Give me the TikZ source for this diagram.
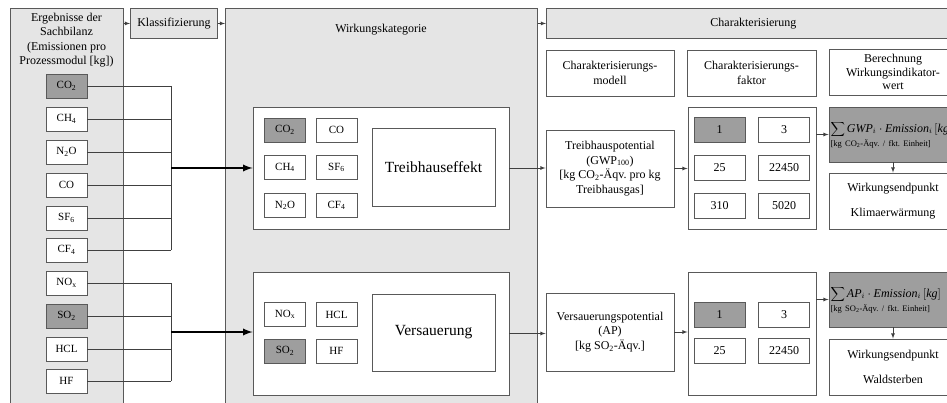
\documentclass[tikz,border=0pt]{standalone}
\usepackage{fontspec}
\setmainfont{Liberation Serif}
\frenchspacing
\begin{document}
\begin{tikzpicture}[x=1pt,y=-1pt,
    panel/.style={draw=black!65, line width=0.9pt, fill=black!10, anchor=north west, inner sep=0pt},
    box/.style={draw=black!65, line width=0.9pt, fill=white, inner sep=0pt, align=center},
    dbox/.style={box, fill=black!38},
    chem/.style={minimum width=41, minimum height=24, font=\fontsize{11}{13}\selectfont},
    num/.style={minimum width=51, minimum height=25, font=\fontsize{12}{14}\selectfont},
    txt/.style={font=\fontsize{12}{14.5}\selectfont, align=center},
    con/.style={draw=black!75, line width=0.8pt},
    bus/.style={draw=black, line width=2.2pt}]
    \clip (0,0) rectangle (947,403);
    % spalten
    \node[panel, minimum width=113, minimum height=402] (sach) at (10,8) {};
    \node[panel, minimum width=87, minimum height=30, txt] (klass) at (130,8) {Klassifizierung};
    \node[panel, minimum width=312, minimum height=402] (wirk) at (225,8) {};
    \node[panel, minimum width=414, minimum height=30, txt] (charhd) at (546,8) {Charakterisierung};
    \node[txt] (sachlbl) at (66.5,40) {Ergebnisse der\\Sachbilanz\\(Emissionen pro\\Prozessmodul [kg])};
    \node[txt] (wirklbl) at (381,30) {Wirkungskategorie};
    \draw[-latex, con] (sach.east |- klass) -- (klass.west);
    \draw[-latex, con] (klass.east) -- (klass.east -| wirk.west);
    \draw[-latex, con] (wirk.east |- charhd) -- (charhd.west);
    % sachbilanz
    \node[dbox, chem] (co2) at (66.5,86) {CO\textsubscript{2}};
    \node[box, chem] (ch4) at (66.5,119) {CH\textsubscript{4}};
    \node[box, chem] (n2o) at (66.5,152) {N\textsubscript{2}O};
    \node[box, chem] (co) at (66.5,185) {CO};
    \node[box, chem] (sf6) at (66.5,218) {SF\textsubscript{6}};
    \node[box, chem] (cf4) at (66.5,250) {CF\textsubscript{4}};
    \node[box, chem] (nox) at (66.5,283) {NO\textsubscript{x}};
    \node[dbox, chem] (so2) at (66.5,316) {SO\textsubscript{2}};
    \node[box, chem] (hcl) at (66.5,349) {HCL};
    \node[box, chem] (hf) at (66.5,381) {HF};
    \coordinate (bus1) at (171,168);
    \coordinate (bus2) at (171,332);
    \draw[con] (co2.east) -- (co2.east -| bus1) (ch4.east) -- (ch4.east -| bus1)
        (n2o.east) -- (n2o.east -| bus1) (co.east) -- (co.east -| bus1)
        (sf6.east) -- (sf6.east -| bus1) (cf4.east) -- (cf4.east -| bus1);
    \draw[con] (co2.east -| bus1) -- (cf4.east -| bus1);
    \draw[con] (nox.east) -- (nox.east -| bus2) (so2.east) -- (so2.east -| bus2)
        (hcl.east) -- (hcl.east -| bus2) (hf.east) -- (hf.east -| bus2);
    \draw[con] (nox.east -| bus2) -- (hf.east -| bus2);
    % wirkungskategorie
    \node[box, minimum width=256, minimum height=122] (gwk) at (381,168) {};
    \node[dbox, chem] (gco2) at (285,130) {CO\textsubscript{2}};
    \node[box, chem] (gco) at (336.5,130) {CO};
    \node[box, chem] (gch4) at (285,167.5) {CH\textsubscript{4}};
    \node[box, chem] (gsf6) at (336.5,167.5) {SF\textsubscript{6}};
    \node[box, chem] (gn2o) at (285,205.5) {N\textsubscript{2}O};
    \node[box, chem] (gcf4) at (336.5,205.5) {CF\textsubscript{4}};
    \node[box, minimum width=123, minimum height=78, font=\fontsize{15.5}{18}\selectfont] (treib) at (433.5,167) {Treibhauseffekt};
    \node[box, minimum width=256, minimum height=123] (apk) at (381,333.5) {};
    \node[box, chem] (anox) at (285,314.5) {NO\textsubscript{x}};
    \node[box, chem] (ahcl) at (336.5,314.5) {HCL};
    \node[dbox, chem] (aso2) at (285,351) {SO\textsubscript{2}};
    \node[box, chem] (ahf) at (336.5,351) {HF};
    \node[box, minimum width=123, minimum height=77, font=\fontsize{15.5}{18}\selectfont] (vers) at (433.5,332.5) {Versauerung};
    \draw[-latex, bus] (bus1) -- (bus1 -| gwk.west);
    \draw[-latex, bus] (bus2) -- (bus2 -| apk.west);
    % charakterisierung
    \node[box, txt, minimum width=128, minimum height=46] (modell) at (610,73) {Charakterisierungs-\\modell};
    \node[box, txt, minimum width=129, minimum height=46] (faktor) at (751.5,73) {Charakterisierungs-\\faktor};
    \node[box, txt, minimum width=128, minimum height=46, font=\fontsize{12}{13.5}\selectfont] (berech) at (893,72) {Berechnung\\Wirkungsindikator-\\wert};
    \node[box, txt, minimum width=128, minimum height=77] (tp) at (610,168.5) {Treibhauspotential\\(GWP\textsubscript{100})\\{}[kg CO\textsubscript{2}-Äqv. pro kg\\Treibhausgas]};
    \node[box, minimum width=128, minimum height=122] (fg) at (752,168) {};
    \node[dbox, num] (g1) at (719.5,130) {1};
    \node[box, num] (g3) at (784,130) {3};
    \node[box, num] (g25) at (719.5,168) {25};
    \node[box, num] (g22450) at (784,168) {22450};
    \node[box, num] (g310) at (719.5,206) {310};
    \node[box, num] (g5020) at (784,206) {5020};
    \node[dbox, minimum width=128, minimum height=55, text width=125, align=left] (cg) at (893,134.5)
        {{\fontsize{12}{14}\selectfont$\displaystyle\sum \mathit{GWP}_i\cdot\mathit{Emission}_i\,[\mathit{kg}]$}\\[2pt]
         {\fontsize{8.5}{10}\selectfont [kg CO\textsubscript{2}-Äqv. / fkt. Einheit]}};
    \node[box, txt, minimum width=128, minimum height=56] (eg) at (893,201) {Wirkungsendpunkt\\[10pt]Klimaerwärmung};
    \node[box, txt, minimum width=128, minimum height=78] (vp) at (610,332) {Versauerungspotential\\(AP)\\{}[kg SO\textsubscript{2}-Äqv.]};
    \node[box, minimum width=128, minimum height=123] (fa) at (752,333.5) {};
    \node[dbox, num] (a1) at (719.5,314.5) {1};
    \node[box, num] (a3) at (784,314.5) {3};
    \node[box, num] (a25) at (719.5,351) {25};
    \node[box, num] (a22450) at (784,351) {22450};
    \node[dbox, minimum width=128, minimum height=55, text width=125, align=left] (ca) at (893,299.5)
        {{\fontsize{12}{14}\selectfont$\displaystyle\sum \mathit{AP}_i\cdot\mathit{Emission}_i\,[\mathit{kg}]$}\\[2pt]
         {\fontsize{8.5}{10}\selectfont [kg SO\textsubscript{2}-Äqv. / fkt. Einheit]}};
    \node[box, txt, minimum width=128, minimum height=56] (ea) at (893,367) {Wirkungsendpunkt\\[10pt]Waldsterben};
    \draw[-latex, con] (gwk.east) -- (gwk.east -| tp.west);
    \draw[-latex, con] (tp.east) -- (tp.east -| fg.west);
    \draw[-latex, con] (fg.east |- cg) -- (cg.west);
    \draw[-latex, con] (cg.south) -- (eg.north);
    \draw[-latex, con] (apk.east) -- (apk.east -| vp.west);
    \draw[-latex, con] (vp.east) -- (vp.east -| fa.west);
    \draw[-latex, con] (fa.east |- ca) -- (ca.west);
    \draw[-latex, con] (ca.south) -- (ea.north);
\end{tikzpicture}
\end{document}
